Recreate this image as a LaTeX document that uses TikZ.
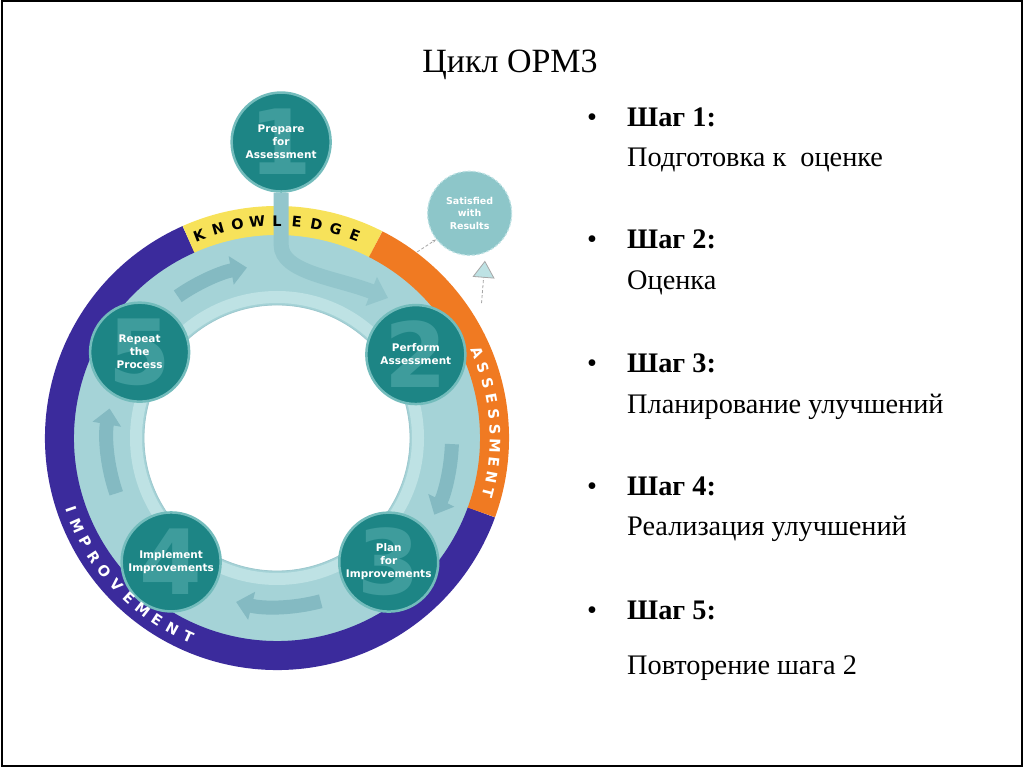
\documentclass[tikz,border=0pt]{standalone}
\usepackage{fontspec}
\setmainfont{Liberation Serif}
\newfontfamily\bandfont{DejaVu Sans}
\usetikzlibrary{calc}
\usetikzlibrary{arrows.meta}

\definecolor{ringpurple}{HTML}{3B2B9C}
\definecolor{ringyellow}{HTML}{F7E25A}
\definecolor{ringorange}{HTML}{F07A22}
\definecolor{ringteal}{HTML}{A5D3D7}
\definecolor{ringlight}{HTML}{BEE2E4}
\definecolor{ringarrowc}{HTML}{84BAC2}
\definecolor{stemc}{HTML}{93C6CC}
\definecolor{stagefill}{HTML}{1D8585}
\definecolor{stageedge}{HTML}{73BCBC}
\definecolor{stagedigit}{HTML}{3E9C9C}
\definecolor{satfill}{HTML}{8DC6C9}

\begin{document}
\begin{tikzpicture}[>=stealth,x=1pt,y=1pt,
    stage/.style={circle,minimum size=99pt,inner sep=0pt,fill=stagefill,draw=stageedge,line width=2.5pt,
        text=white,align=center,font=\bandfont\bfseries\fontsize{10.5}{13}\selectfont,
        path picture={\node[text=stagedigit,font=\bandfont\bfseries\fontsize{90}{90}\selectfont]
            at (path picture bounding box.center) {#1};}},
    satstage/.style={circle,minimum size=84pt,inner sep=0pt,fill=satfill,draw=ringlight,densely dashed,
        line width=1.2pt,text=white,align=center,font=\bandfont\bfseries\fontsize{9.5}{12.5}\selectfont},
    bandletter/.style={inner sep=0pt,font=\bandfont\bfseries\fontsize{14.5}{14.5}\selectfont},
    ringarrow/.style={line width=14pt,draw=ringarrowc,-{Triangle[width=28pt,length=16pt]}},
    dashlink/.style={densely dashed,draw=gray!70,line width=0.8pt},
    stephead/.style={anchor=base west,inner sep=0pt,font=\bfseries\fontsize{28.3}{32}\selectfont},
    stepdesc/.style={anchor=base west,inner sep=0pt,font=\fontsize{28.3}{32}\selectfont},
    bulletmark/.style={anchor=base,inner sep=0pt,font=\fontsize{28.3}{32}\selectfont}]
    \useasboundingbox (0,0) rectangle (1024,768);
    \fill[white] (0,0) rectangle (1024,768);
    \draw[line width=2pt] (1.5,2) rectangle (1021.5,766.5);

    \node[font=\fontsize{34}{38}\selectfont] (title) at (510,703) {Цикл OPM3};

    \coordinate (C) at (277,330);
    \begin{scope}[shift={(C)}]
        \fill[ringteal,even odd rule] (0,0) circle[radius=204] (0,0) circle[radius=133];
        \draw[ringlight,line width=12pt] (0,0) circle[radius=141];
        \draw[ringarrowc!80,line width=0.8pt] (0,0) circle[radius=133];

        \draw[ringpurple,line width=29pt] (114:217.5) arc[start angle=114,end angle=340,radius=217.5];
        \draw[ringyellow,line width=29pt] (63:217.5) arc[start angle=63,end angle=114,radius=217.5];
        \draw[ringorange,line width=29pt] (-20:217.5) arc[start angle=-20,end angle=63,radius=217.5];

        \draw[ringarrow] (125:173) arc[start angle=125,end angle=100,radius=173];
        \draw[ringarrow] (-2:175) arc[start angle=-2,end angle=-26,radius=175];
        \draw[ringarrow] (-75:169) arc[start angle=-75,end angle=-104,radius=169];
        \draw[ringarrow] (199:170) arc[start angle=199,end angle=170,radius=170];

        \node[stage=1] (prep) at (89.2:296) {Prepare\\for\\Assessment};
        \node[stage=2] (perf) at (31:162) {Perform\\Assessment};
        \node[stage=3] (plan) at (-48:167) {Plan\\for\\Improvements};
        \node[stage=4] (impl) at (229.5:163) {Implement\\Improvements};
        \node[stage=5] (rep) at (148:162) {Repeat\\the\\Process};
        \node[satstage] (sat) at (49.4:296) {Satisfied\\with\\Results};

        \coordinate (stemtip) at (111,140);
        \draw[stemc,line width=15pt,-{Triangle[width=30pt,length=18pt]}]
            (prep.south) -- ++(0,-52) .. controls +(0,-28) and (60,160) .. (stemtip);

        \foreach \l [count=\k] in {K,N,O,W,L,E,D,G,E}{
            \pgfmathsetmacro\a{111-5.25*(\k-1)}
            \node[bandletter,text=black,rotate=\a-90] (know\k) at (\a:217) {\l};
        }
        \foreach \l [count=\k] in {A,S,S,E,S,S,M,E,N,T}{
            \pgfmathsetmacro\a{23-4.17*(\k-1)}
            \node[bandletter,text=white,rotate=\a-90] (asse\k) at (\a:218) {\l};
        }
        \foreach \l [count=\k] in {I,M,P,R,O,V,E,M,E,N,T}{
            \pgfmathsetmacro\a{199+4.7*(\k-1)}
            \node[bandletter,text=white,rotate=\a+90] (impr\k) at (\a:218) {\l};
        }

        \coordinate (assessout) at (53:233);
        \coordinate (assessup) at (33.4:245);
        \draw[dashlink,-{Stealth[length=4pt]}] (assessout) -- (sat.218);
        \draw[dashlink,shorten >=8pt,-{Triangle[width=22pt,length=17pt,fill=ringlight]}] (assessup) -- (sat.-68);
    \end{scope}

    \foreach \i/\ya/\yb/\txt in {1/641/601/{Подготовка к\ \ оценке},2/519/478/{Оценка},
        3/395/354/{Планирование улучшений},4/272/232/{Реализация улучшений},5/149/94/{Повторение шага 2}}{
        \node[bulletmark] (dot\i) at (592,\ya) {•};
        \node[stephead] (head\i) at (627,\ya) {Шаг \i:};
        \node[stepdesc] (desc\i) at (627,\yb) {\txt};
    }
\end{tikzpicture}
\end{document}
